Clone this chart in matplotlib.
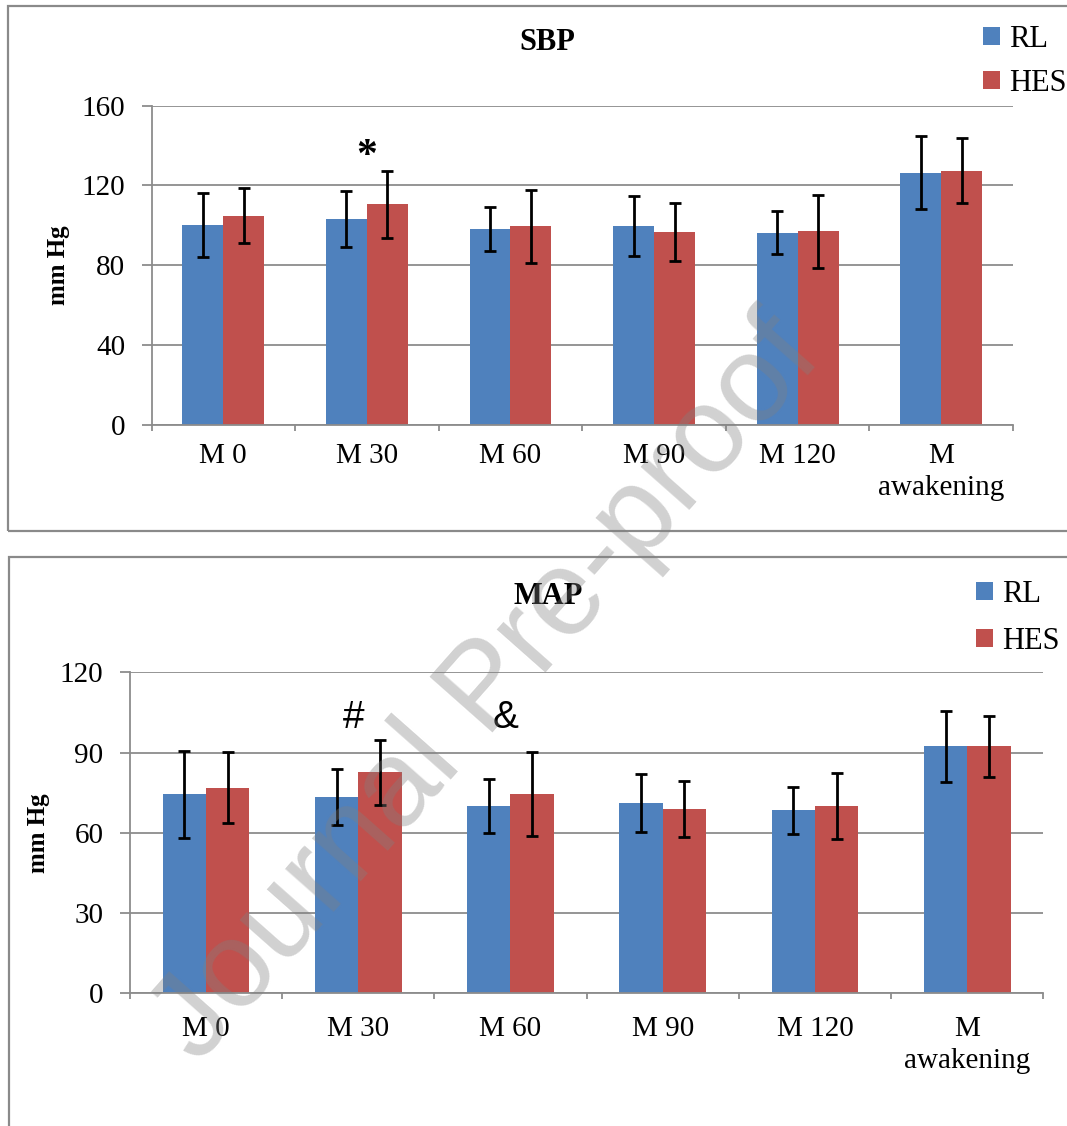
import numpy as np
import matplotlib
matplotlib.use("Agg")
import matplotlib.pyplot as plt
from matplotlib.patches import Rectangle

plt.rcParams['font.family'] = ['Liberation Serif', 'DejaVu Serif']

# data (mean and SD, mm Hg)
categories = ['M 0', 'M 30', 'M 60', 'M 90', 'M 120', 'M\nawakening']
groups = ['RL', 'HES']

sbp_rl = [100, 103, 98, 99.5, 96.3, 126.4]
sbp_rl_sd = [16, 14, 11, 15, 10.8, 18.3]
sbp_hes = [104.8, 110.6, 99.4, 96.6, 96.9, 127.4]
sbp_hes_sd = [13.7, 16.8, 18.2, 14.4, 18.4, 16.2]

map_rl = [74.4, 73.4, 70, 71.2, 68.4, 92.3]
map_rl_sd = [16.3, 10.6, 10.2, 10.8, 8.8, 13.3]
map_hes = [76.9, 82.6, 74.4, 68.8, 70, 92.3]
map_hes_sd = [13.3, 12.1, 15.7, 10.4, 12.3, 11.4]

sbp_ticks = [0, 40, 80, 120, 160]
map_ticks = [0, 30, 60, 90, 120]

# significance marks: (category position, y value, text, font family)
sbp_marks = [(1.0, 129, '*', ['Liberation Serif'])]
map_marks = [(0.97, 99, '#', ['Liberation Sans']),
             (1.97, 99, '&', ['Liberation Sans'])]

BLUE = '#4F81BD'
RED = '#C0504D'
GRID = '#8c8c8c'
W, H = 1067, 1126


def px_axes(fig, left, top, right, bottom):
    return fig.add_axes([left / W, 1 - bottom / H, (right - left) / W, (bottom - top) / H])


def draw_panel(ax, rl, rl_sd, hes, hes_sd, ticks, marks, label_x, xpad):
    x = np.arange(len(categories))
    bw = 0.285
    err_kw = dict(ecolor='black', elinewidth=2.0, capsize=4.2, capthick=2.0)
    ax.bar(x - bw / 2, rl, bw, yerr=rl_sd, color=BLUE, label=groups[0],
           error_kw=err_kw, zorder=2)
    ax.bar(x + bw / 2, hes, bw, yerr=hes_sd, color=RED, label=groups[1],
           error_kw=err_kw, zorder=2)
    ax.set_xlim(-0.5, len(categories) - 0.5)
    ax.set_ylim(ticks[0], ticks[-1])
    ax.set_yticks(ticks)
    ax.set_xticks(x)
    ax.set_xticklabels(categories, fontsize=21, linespacing=1.3)
    ax.set_xticks(np.arange(len(categories) + 1) - 0.5, minor=True)
    ax.tick_params(axis='x', which='major', length=0, pad=xpad)
    ax.tick_params(axis='x', which='minor', length=4.5, width=1.3, color=GRID)
    ax.tick_params(axis='y', length=7, width=1.3, color=GRID, labelsize=21, pad=12)
    ax.set_axisbelow(True)
    ax.yaxis.grid(True, color=GRID, linewidth=1.3)
    for side in ['top', 'right']:
        ax.spines[side].set_visible(False)
    for side in ['left', 'bottom']:
        ax.spines[side].set_color(GRID)
        ax.spines[side].set_linewidth(1.3)
    ax.set_ylabel('mm Hg', fontsize=18, fontweight='bold')
    ax.yaxis.set_label_coords(label_x, 0.5)
    for mx, my, txt, fam in marks:
        ax.text(mx, my, txt, ha='center', va='baseline',
                fontsize=30 if txt == '*' else 28, family=fam,
                fontweight='bold' if txt == '*' else 'normal')


fig = plt.figure(figsize=(W / 100, H / 100), dpi=100)

# panel frames
fig.patches.append(Rectangle((8 / W, 1 - 531 / H), 1.2, 525 / H, transform=fig.transFigure,
                             fill=False, edgecolor='#8a8a8a', linewidth=1.6))
fig.patches.append(Rectangle((8.6 / W, -0.1), 1.2, 0.1 + 1 - 556.6 / H, transform=fig.transFigure,
                             fill=False, edgecolor='#8a8a8a', linewidth=1.6))

ax1 = px_axes(fig, 151.5, 105.7, 1013, 424.6)
draw_panel(ax1, sbp_rl, sbp_rl_sd, sbp_hes, sbp_hes_sd, sbp_ticks, sbp_marks, -0.095, 13)
fig.text(547 / W, 1 - 42 / H, 'SBP', ha='center', va='center', fontsize=22, fontweight='bold')
ax1.legend(loc='upper left', bbox_to_anchor=(983 / W, 1 - 25 / H), bbox_transform=fig.transFigure,
           frameon=False, borderpad=0, borderaxespad=0, handlelength=0.55, handleheight=0.55,
           handletextpad=0.3, labelspacing=0.49, fontsize=22)

ax2 = px_axes(fig, 129.8, 672.3, 1043.4, 993.4)
draw_panel(ax2, map_rl, map_rl_sd, map_hes, map_hes_sd, map_ticks, map_marks, -0.087, 16)
fig.text(548 / W, 1 - 597 / H, 'MAP', ha='center', va='center', fontsize=22, fontweight='bold')
ax2.legend(loc='upper left', bbox_to_anchor=(976 / W, 1 - 580 / H), bbox_transform=fig.transFigure,
           frameon=False, borderpad=0, borderaxespad=0, handlelength=0.55, handleheight=0.55,
           handletextpad=0.3, labelspacing=0.575, fontsize=22)

# watermark
fig.text(487 / W, 1 - 690 / H, 'Journal Pre-proof', ha='center', va='center', rotation=48.5,
         rotation_mode='anchor', fontsize=88, family=['Liberation Sans'],
         color='0.5', alpha=0.36, zorder=10)

fig.savefig('out.png', dpi=100)
